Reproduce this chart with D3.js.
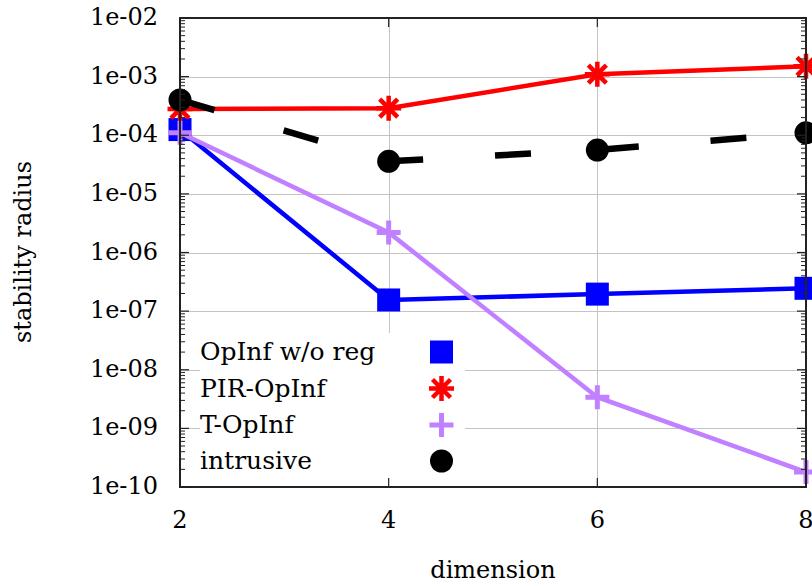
<!DOCTYPE html>
<html>
<head>
<meta charset="utf-8">
<script src="https://cdn.jsdelivr.net/npm/d3@7"></script>
<style>
  html, body { margin: 0; padding: 0; background: #fff; }
  svg { display: block; }
</style>
</head>
<body>
<svg id="chart" width="812" height="586"></svg>
<script>
// Stability radius against reduced dimension for four model variants
const dimensions = [2, 4, 6, 8];
const opinfNoReg = [1.25e-4, 1.55e-7, 1.95e-7, 2.45e-7];
const pirOpinf   = [2.8e-4, 2.9e-4, 1.1e-3, 1.5e-3];
const tOpinf     = [1.1e-4, 2.2e-6, 3.4e-9, 1.8e-10];
const intrusive  = [4.0e-4, 3.6e-5, 5.6e-5, 1.1e-4];

const xTickValues = [2, 4, 6, 8];
const yTickExponents = [-10, -9, -8, -7, -6, -5, -4, -3, -2];
const seriesNames = ["OpInf w/o reg", "PIR-OpInf", "T-OpInf", "intrusive"];

const serifFont = "'DejaVu Serif', 'Liberation Serif', serif";

const svg = d3.select("#chart");
const plotLeft = 180, plotRight = 806, plotTop = 18, plotBottom = 487;

const x = d3.scaleLinear().domain([2, 8]).range([plotLeft, plotRight]);
const y = d3.scaleLog().domain([1e-10, 1e-2]).range([plotBottom, plotTop]);

const fmtExp = e => "1e-" + String(-e).padStart(2, "0");

function label(sel, size) {
  return sel.append("text").attr("font-family", serifFont).attr("font-size", size).attr("fill", "#000");
}

// grid lines
const grid = svg.append("g").attr("stroke", "#c4c4c4").attr("stroke-width", 1);
yTickExponents.slice(1, -1).forEach(e => {
  const yy = Math.round(y(Math.pow(10, e))) + 0.5;
  grid.append("line").attr("x1", plotLeft).attr("x2", plotRight).attr("y1", yy).attr("y2", yy);
});
xTickValues.slice(1, -1).forEach(v => {
  const xx = Math.round(x(v)) + 0.5;
  grid.append("line").attr("x1", xx).attr("x2", xx).attr("y1", plotTop).attr("y2", plotBottom);
});

// legend background hides the grid underneath
svg.append("rect").attr("x", 200).attr("y", 333).attr("width", 265).attr("height", plotBottom - 333)
  .attr("fill", "#fff");

// marker shapes
function drawMarker(g, kind, cx, cy, color) {
  if (kind === "square") {
    g.append("rect").attr("x", cx - 11.5).attr("y", cy - 11.5).attr("width", 23).attr("height", 23)
      .attr("fill", color);
  } else if (kind === "star") {
    const r = 12.5, d = r * 0.72;
    const p = `M${cx - r},${cy}L${cx + r},${cy}M${cx},${cy - r}L${cx},${cy + r}` +
              `M${cx - d},${cy - d}L${cx + d},${cy + d}M${cx - d},${cy + d}L${cx + d},${cy - d}`;
    g.append("path").attr("d", p).attr("stroke", color).attr("stroke-width", 4.5).attr("fill", "none");
  } else if (kind === "plus") {
    const r = 12;
    g.append("path").attr("d", `M${cx - r},${cy}L${cx + r},${cy}M${cx},${cy - r}L${cx},${cy + r}`)
      .attr("stroke", color).attr("stroke-width", 5).attr("fill", "none");
  } else if (kind === "circle") {
    g.append("circle").attr("cx", cx).attr("cy", cy).attr("r", 11.5).attr("fill", color);
  }
}

const series = [
  { name: seriesNames[0], values: opinfNoReg, color: "#0000ff", marker: "square", width: 4.5, dash: null },
  { name: seriesNames[1], values: pirOpinf,   color: "#ff0000", marker: "star",   width: 4.5, dash: null },
  { name: seriesNames[2], values: tOpinf,     color: "#c080ff", marker: "plus",   width: 4.5, dash: null },
  { name: seriesNames[3], values: intrusive,  color: "#000000", marker: "circle", width: 6.5, dash: "36,72" }
];

const line = d3.line().x(d => x(d[0])).y(d => y(d[1]));

series.forEach(s => {
  const g = svg.append("g");
  const pts = dimensions.map((d, i) => [d, s.values[i]]);
  const path = g.append("path").datum(pts).attr("d", line)
    .attr("fill", "none").attr("stroke", s.color).attr("stroke-width", s.width)
    .attr("stroke-linejoin", "miter");
  if (s.dash) path.attr("stroke-dasharray", s.dash);
  pts.forEach(p => drawMarker(g, s.marker, x(p[0]), y(p[1]), s.color));
});

// legend
const legRowY = [352, 388.5, 425, 461];
series.forEach((s, i) => {
  label(svg, 25).attr("x", 200).attr("y", legRowY[i] + 8).text(s.name);
  drawMarker(svg.append("g"), s.marker, 441.5, legRowY[i], s.color);
});

// frame and ticks
const axisG = svg.append("g").attr("stroke", "#222").attr("fill", "none");
axisG.append("rect").attr("x", plotLeft).attr("y", plotTop)
  .attr("width", plotRight - plotLeft).attr("height", plotBottom - plotTop)
  .attr("stroke-width", 2);

yTickExponents.forEach(e => {
  const v = Math.pow(10, e);
  const yy = y(v);
  axisG.append("line").attr("x1", plotLeft).attr("x2", plotLeft + 9).attr("y1", yy).attr("y2", yy).attr("stroke-width", 1.2);
  axisG.append("line").attr("x1", plotRight).attr("x2", plotRight - 9).attr("y1", yy).attr("y2", yy).attr("stroke-width", 1.2);
  if (e < -2) {
    for (let m = 2; m <= 9; m++) {
      const ym = y(m * v);
      axisG.append("line").attr("x1", plotLeft).attr("x2", plotLeft + 5).attr("y1", ym).attr("y2", ym).attr("stroke-width", 1);
      axisG.append("line").attr("x1", plotRight).attr("x2", plotRight - 5).attr("y1", ym).attr("y2", ym).attr("stroke-width", 1);
    }
  }
  label(svg, 24).attr("x", 158).attr("y", yy + 7).attr("text-anchor", "end").text(fmtExp(e));
});

xTickValues.forEach(v => {
  const xx = x(v);
  axisG.append("line").attr("x1", xx).attr("x2", xx).attr("y1", plotBottom).attr("y2", plotBottom - 9).attr("stroke-width", 1.2);
  axisG.append("line").attr("x1", xx).attr("x2", xx).attr("y1", plotTop).attr("y2", plotTop + 9).attr("stroke-width", 1.2);
  label(svg, 24).attr("x", xx).attr("y", 528).attr("text-anchor", "middle").text(v);
});

// axis titles
label(svg, 24).attr("x", 493).attr("y", 578).attr("text-anchor", "middle").text("dimension");
label(svg, 24).attr("transform", "translate(31,252) rotate(-90)").attr("text-anchor", "middle")
  .text("stability radius");
</script>
</body>
</html>
